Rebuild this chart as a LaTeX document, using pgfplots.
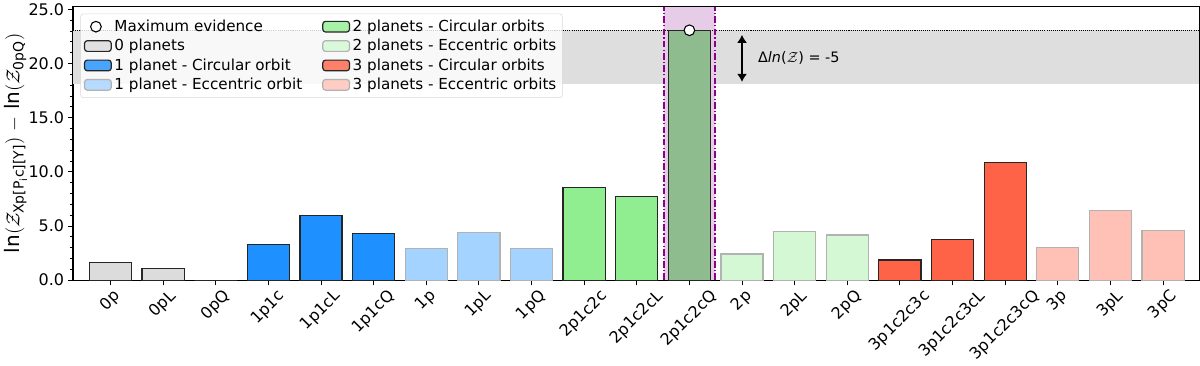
\documentclass[border=0pt]{standalone}
\usepackage{fontspec}
\setmainfont{DejaVu Sans}
\usepackage{amsmath}
\usepackage{graphicx}
\usepackage{pgfplots}
\pgfplotsset{compat=1.18}
\usetikzlibrary{arrows.meta}

\definecolor{zgray}{RGB}{220,220,220}
\definecolor{bandgray}{RGB}{222,222,222}
\definecolor{bluec}{RGB}{30,144,255}
\definecolor{bluee}{RGB}{165,211,255}
\definecolor{greenc}{RGB}{144,238,144}
\definecolor{greene}{RGB}{211,248,211}
\definecolor{greenmax}{RGB}{143,188,143}
\definecolor{redc}{RGB}{255,99,71}
\definecolor{rede}{RGB}{255,193,181}
\definecolor{purplefill}{RGB}{230,204,230}
\definecolor{dmagenta}{RGB}{139,0,139}

\newcommand{\R}[1]{\rotatebox{45}{#1}}

\pgfplotsset{
  barc/.style={ybar, bar width=0.8, bar shift=0pt, draw=black!85, line width=0.9pt, forget plot},
  bare/.style={ybar, bar width=0.8, bar shift=0pt, draw=black!30, line width=0.9pt, forget plot},
  patch/.style={legend image code/.code={\draw[##1] (0pt,-4pt) rectangle (20pt,4pt);}},
}

\begin{document}
\begin{tikzpicture}
\begin{axis}[
  width=846pt, height=205.5pt, scale only axis,
  xmin=-0.71, xmax=20.69, ymin=0, ymax=25.26,
  xtick={0,...,20},
  xticklabels={\R{0p},\R{0pL},\R{0pQ},\R{1p1c},\R{1p1cL},\R{1p1cQ},\R{1p},\R{1pL},\R{1pQ},
    \R{2p1c2c},\R{2p1c2cL},\R{2p1c2cQ},\R{2p},\R{2pL},\R{2pQ},
    \R{3p1c2c3c},\R{3p1c2c3cL},\R{3p1c2c3cQ},\R{3p},\R{3pL},\R{3pC}},
  xticklabel style={anchor=north, font=\fontsize{12}{14}\selectfont, inner sep=2pt},
  ytick={0,5,...,25}, minor y tick num=4,
  yticklabel style={font=\fontsize{12}{14}\selectfont, inner sep=2.5pt,
    /pgf/number format/fixed, /pgf/number format/fixed zerofill,
    /pgf/number format/precision=1, /pgf/number format/assume math mode=true},
  xtick pos=left, ytick pos=left, tick align=outside,
  major tick length=4pt, minor tick length=2.4pt,
  tick style={black, line width=0.7pt},
  axis line style={line width=0.9pt},
  ylabel={ln$(\mathcal{Z}_{\text{Xp[P}_{\text{i}}\text{c][Y]}})$ $-$ ln$(\mathcal{Z}_{\text{0pQ}})$},
  ylabel style={font=\fontsize{15}{17}\selectfont},
  ylabel shift=-5pt,
  legend columns=2,
  legend cell align=left,
  legend style={at={(rel axis cs:0.0065,0.974)}, anchor=north west,
    draw=black!15, rounded corners=2pt, fill=white, fill opacity=0.8, text opacity=1,
    font=\fontsize{11.4}{13.5}\selectfont, inner sep=2.5pt, row sep=0.4pt,
    /tikz/every even column/.append style={column sep=13pt}},
]
% band and highlighted model
\fill[bandgray] (axis cs:-0.71,18.07) rectangle (axis cs:20.69,23.07);
\fill[purplefill] (axis cs:10.52,0) rectangle (axis cs:11.48,25.26);
\draw[black, line width=0.6pt, dash pattern=on 0.8pt off 0.8pt] (axis cs:-0.71,23.07) -- (axis cs:20.69,23.07);

\addplot[barc, fill=zgray] coordinates {(0,1.63)(1,1.05)(2,0)};
\addplot[barc, fill=bluec] coordinates {(3,3.32)(4,5.95)(5,4.32)};
\addplot[bare, fill=bluee] coordinates {(6,2.90)(7,4.38)(8,2.93)};
\addplot[barc, fill=greenc] coordinates {(9,8.56)(10,7.73)};
\addplot[barc, fill=greenmax] coordinates {(11,23.07)};
\addplot[bare, fill=greene] coordinates {(12,2.42)(13,4.47)(14,4.17)};
\addplot[barc, fill=redc] coordinates {(15,1.86)(16,3.77)(17,10.87)};
\addplot[bare, fill=rede] coordinates {(18,3.03)(19,6.44)(20,4.55)};

\draw[dmagenta, line width=1.4pt, dash pattern=on 5pt off 1.6pt on 1pt off 1.6pt] (axis cs:10.52,0) -- (axis cs:10.52,25.26);
\draw[dmagenta, line width=1.4pt, dash pattern=on 5pt off 1.6pt on 1pt off 1.6pt] (axis cs:11.48,0) -- (axis cs:11.48,25.26);

\addplot[only marks, mark=*, mark size=4pt, mark options={fill=white, draw=black, line width=0.8pt}, forget plot] coordinates {(11,23.07)};

\draw[{Latex[length=6pt,width=7.5pt]}-{Latex[length=6pt,width=7.5pt]}, line width=1.2pt] (axis cs:12.0,22.65) -- (axis cs:12.0,18.3);
\node[anchor=west, font=\fontsize{10.8}{12}\selectfont, inner sep=0pt] at (axis cs:12.3,20.5) {Δ\textit{ln}($\mathcal{Z}$) = -5};

% legend, filled row by row
\addlegendimage{only marks, mark=*, mark size=4pt, mark options={fill=white, draw=black, line width=0.8pt}}
\addlegendentry{Maximum evidence}
\addlegendimage{patch, fill=greenc, draw=black!85, line width=0.9pt}
\addlegendentry{2 planets - Circular orbits}
\addlegendimage{patch, fill=zgray, draw=black!85, line width=0.9pt}
\addlegendentry{0 planets}
\addlegendimage{patch, fill=greene, draw=black!30, line width=0.9pt}
\addlegendentry{2 planets - Eccentric orbits}
\addlegendimage{patch, fill=bluec, draw=black!85, line width=0.9pt}
\addlegendentry{1 planet - Circular orbit}
\addlegendimage{patch, fill=redc, draw=black!85, line width=0.9pt}
\addlegendentry{3 planets - Circular orbits}
\addlegendimage{patch, fill=bluee, draw=black!30, line width=0.9pt}
\addlegendentry{1 planet - Eccentric orbit}
\addlegendimage{patch, fill=rede, draw=black!30, line width=0.9pt}
\addlegendentry{3 planets - Eccentric orbits}
\end{axis}
\end{tikzpicture}
\end{document}
